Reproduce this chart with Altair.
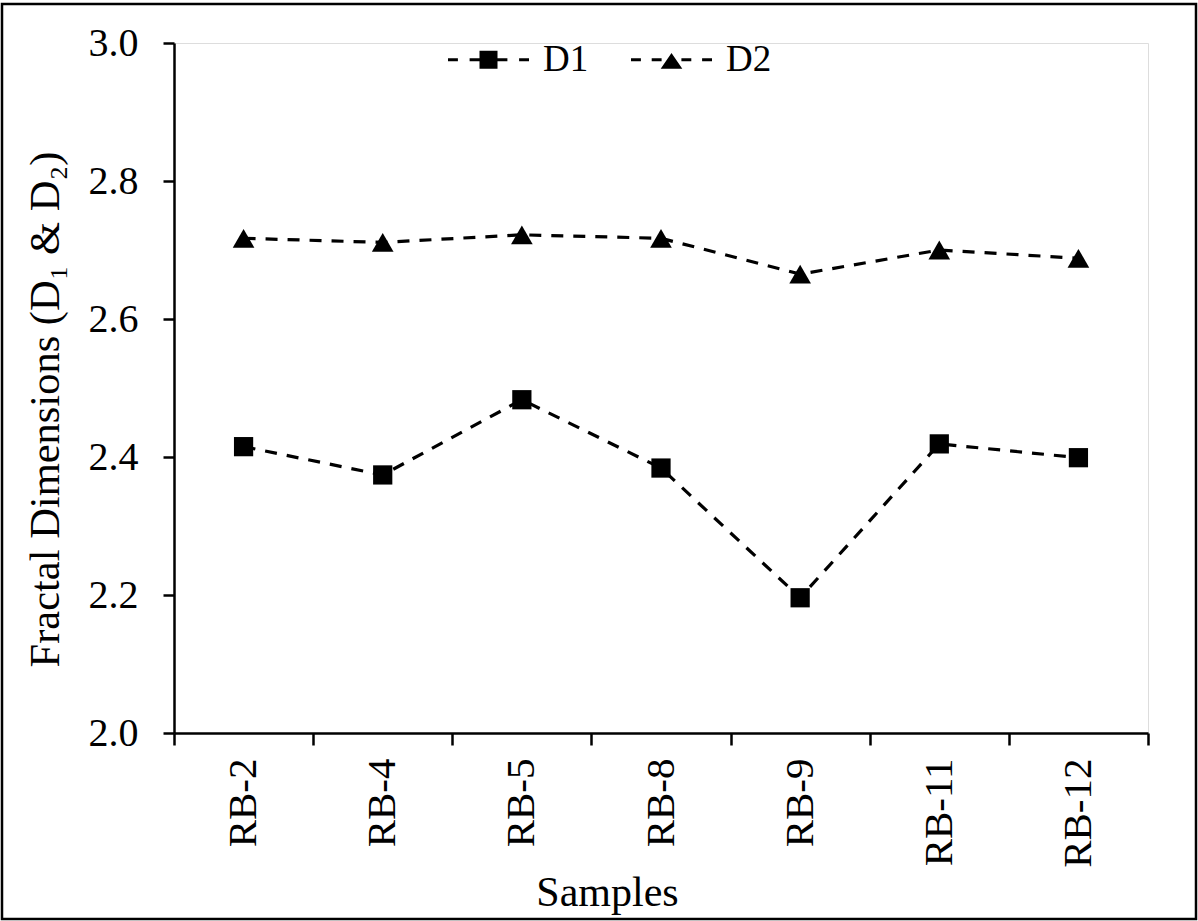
import altair as alt
import pandas as pd

samples = ["RB-2", "RB-4", "RB-5", "RB-8", "RB-9", "RB-11", "RB-12"]
d1 = [2.415, 2.374, 2.483, 2.384, 2.196, 2.419, 2.399]
d2 = [2.717, 2.711, 2.722, 2.717, 2.665, 2.700, 2.688]
series = ["D1", "D2"]
y_ticks = [2.0, 2.2, 2.4, 2.6, 2.8, 3.0]

rows = []
for s, a, b in zip(samples, d1, d2):
    rows.append({"sample": s, "series": "D1", "value": a})
    rows.append({"sample": s, "series": "D2", "value": b})
df = pd.DataFrame(rows)

FONT = "Liberation Serif"
W, H = 974, 690
PAD_L, PAD_T = 174, 43

x_enc = alt.X(
    "sample:N",
    sort=samples,
    scale=alt.Scale(type="band", paddingInner=0, paddingOuter=0),
    axis=alt.Axis(
        title="Samples",
        tickBand="extent",
        labelAngle=-90,
        labelFont=FONT,
        labelFontSize=41,
        labelColor="black",
        labelPadding=13,
        tickSize=12,
        tickWidth=2.5,
        tickColor="black",
        domainColor="black",
        domainWidth=2.5,
        titleFont=FONT,
        titleFontSize=42,
        titleFontWeight="normal",
        titleColor="black",
        titleX=433,
        titleY=172,
        titleAlign="center",
        titleBaseline="alphabetic",
    ),
)
y_enc = alt.Y(
    "value:Q",
    scale=alt.Scale(domain=[2.0, 3.0], nice=False, zero=False),
    axis=alt.Axis(
        title="Fractal Dimensions (D\u2081 & D\u2082)",
        values=y_ticks,
        format=".1f",
        grid=False,
        labelFont=FONT,
        labelFontSize=40,
        labelColor="black",
        labelPadding=25,
        tickSize=11,
        tickWidth=2.5,
        tickColor="black",
        domainColor="black",
        domainWidth=2.5,
        titleFont=FONT,
        titleFontSize=42.5,
        titleFontWeight="normal",
        titleColor="black",
        titleAngle=-90,
        titleX=-129,
        titleY=366,
        titleAlign="center",
        titleBaseline="middle",
    ),
)

base = alt.Chart(df)

lines = base.mark_line(strokeDash=[12, 10], strokeWidth=3.2, color="black").encode(
    x=x_enc, y=y_enc, detail="series:N"
)

points = base.mark_point(filled=True, color="black", opacity=1).encode(
    x=x_enc,
    y=y_enc,
    shape=alt.Shape(
        "series:N",
        scale=alt.Scale(domain=series, range=["square", "triangle-up"]),
        legend=None,
    ),
    size=alt.Size(
        "series:N",
        scale=alt.Scale(domain=series, range=[370, 470]),
        legend=None,
    ),
)

sq_path = ("M-4.5,-0.18H-3.4V0.18H-4.5Z M-2.1,-0.18H-1V0.18H-2.1Z M-1,-1H1V1H-1Z "
           "M1,-0.18H2.1V0.18H1Z M3.4,-0.18H4.5V0.18H3.4Z")
tri_path = ("M-4.5,-0.18H-3.4V0.18H-4.5Z M-2.2,-0.18H-1.1V0.18H-2.2Z M-1.2,1L1.2,1L0,-0.75Z "
            "M1.1,-0.18H2.2V0.18H1.1Z M3.4,-0.18H4.5V0.18H3.4Z")

legend_layer = base.transform_filter("false").mark_point(
    filled=True, size=324, color="black", opacity=1
).encode(
    x=x_enc,
    y=y_enc,
    shape=alt.Shape(
        "series:N",
        scale=alt.Scale(domain=series, range=[sq_path, tri_path]),
        legend=alt.Legend(
            title=None,
            orient="none",
            direction="horizontal",
            legendX=296,
            legendY=-2,
            padding=0,
            labelFont=FONT,
            labelFontSize=37,
            labelColor="black",
            labelOffset=36,
            columnPadding=42,
            symbolSize=324,
            symbolFillColor="black",
            symbolStrokeWidth=0,
            symbolOpacity=1,
        ),
    ),
)

frame = alt.Chart(alt.Data(values=[{}])).mark_rect(
    fill=None, stroke="black", strokeWidth=2.5
).encode(
    x=alt.value(2 - PAD_L),
    x2=alt.value(1196 - PAD_L),
    y=alt.value(4 - PAD_T),
    y2=alt.value(919 - PAD_T),
)

chart = (
    alt.layer(lines, points, legend_layer, frame)
    .resolve_scale(shape="independent", size="independent")
    .properties(
        width=W,
        height=H,
        autosize=alt.AutoSizeParams(type="none"),
        padding={"left": PAD_L, "top": PAD_T, "right": 1198 - PAD_L - W, "bottom": 921 - PAD_T - H},
    )
    .configure_view(stroke=None)
    .configure(background="white")
)

chart.save("out.html", embed_options={"renderer": "svg", "actions": False})
